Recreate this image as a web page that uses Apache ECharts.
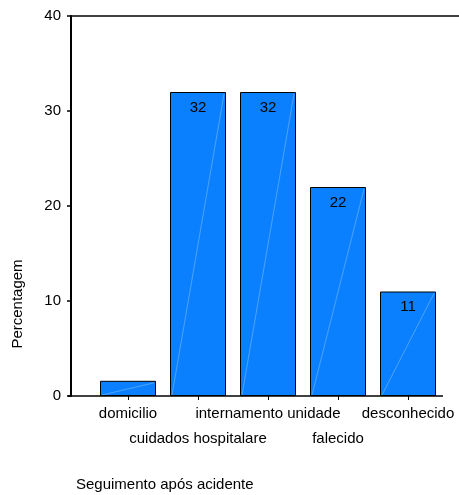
<!DOCTYPE html>
<html>
<head>
<meta charset="utf-8">
<script src="https://cdn.jsdelivr.net/npm/echarts@6/dist/echarts.min.js"></script>
<style>
  html, body { margin: 0; padding: 0; background: #fff; }
  #chart { width: 459px; height: 495px; }
</style>
</head>
<body>
<div id="chart"></div>
<script>
// Follow-up after the accident: percentage of cases per outcome
const categories = ['domicilio', 'cuidados hospitalare', 'internamento unidade', 'falecido', 'desconhecido'];
const percentages = [1.6, 32, 32, 22, 11];
const shownLabels = [null, 32, 32, 22, 11];
const yTicks = [0, 10, 20, 30, 40];

const FONT = '"Liberation Sans", Arial, sans-serif';
const BAR_BLUE = '#0a80ff';

const chart = echarts.init(document.getElementById('chart'), null, { renderer: 'canvas' });

const G_TOP = 16, G_BOTTOM = 99;

chart.setOption({
  animation: false,
  backgroundColor: '#ffffff',
  grid: [
    { left: 71, right: 16, top: G_TOP, bottom: G_BOTTOM },   // frame with value axis
    { left: 93, right: 16, top: G_TOP, bottom: G_BOTTOM }    // category band for bars
  ],
  xAxis: [
    {
      gridIndex: 0, type: 'value', min: 0, max: 1, show: false
    },
    {
      gridIndex: 1, type: 'category', data: categories,
      axisLine: { show: false },
      axisTick: { show: true, alignWithLabel: true, length: 4, lineStyle: { color: '#000', width: 1 } },
      axisLabel: {
        interval: 0, color: '#000', fontFamily: FONT, fontSize: 15,
        lineHeight: 25, margin: 5,
        formatter: (v, i) => (i % 2 ? '\n' + v : v)
      }
    }
  ],
  yAxis: [
    {
      gridIndex: 0, type: 'value', min: yTicks[0], max: yTicks[yTicks.length - 1], interval: 10,
      axisLine: { show: true, lineStyle: { color: '#000', width: 2 } },
      axisTick: { show: true, length: 4, lineStyle: { color: '#000', width: 1.5 } },
      axisLabel: {
        color: '#000', fontFamily: FONT, fontSize: 15, margin: 10,
        showMaxLabel: true, showMinLabel: true, hideOverlap: false
      },
      splitLine: { show: false }
    },
    {
      gridIndex: 1, type: 'value', min: yTicks[0], max: yTicks[yTicks.length - 1],
      show: false
    }
  ],
  series: [
    {
      type: 'bar',
      xAxisIndex: 1, yAxisIndex: 1,
      data: percentages,
      barCategoryGap: '20%',
      itemStyle: { color: BAR_BLUE, borderColor: '#000', borderWidth: 1 },
      label: {
        show: true, position: 'insideTop', distance: 8,
        color: '#000', fontFamily: FONT, fontSize: 15,
        formatter: p => (shownLabels[p.dataIndex] == null ? '' : String(shownLabels[p.dataIndex]))
      },
      z: 2
    },
    {
      // faint diagonal highlight inside each bar
      type: 'custom',
      xAxisIndex: 1, yAxisIndex: 1,
      data: percentages.map((v, i) => [i, v]),
      renderItem: (params, api) => {
        const i = api.value(0), v = api.value(1);
        const band = api.size([1, 0])[0];
        const half = band * 0.4;
        const base = api.coord([i, 0]);
        const top = api.coord([i, v]);
        return {
          type: 'line',
          shape: { x1: base[0] - half + 2, y1: base[1] - 1, x2: top[0] + half - 2, y2: top[1] + 2 },
          style: { stroke: 'rgba(150,200,255,0.8)', lineWidth: 0.6 },
          silent: true
        };
      },
      z: 3
    }
  ]
});

// Frame lines (top and bottom) and axis titles, placed from the value axis scale
const topLeft = chart.convertToPixel({ xAxisIndex: 0, yAxisIndex: 0 }, [0, yTicks[yTicks.length - 1]]);
const bottomLeft = chart.convertToPixel({ xAxisIndex: 0, yAxisIndex: 0 }, [0, yTicks[0]]);
const bottomRight = chart.convertToPixel({ xAxisIndex: 0, yAxisIndex: 0 }, [1, yTicks[0]]);
chart.setOption({
  graphic: [
    {
      type: 'line', silent: true, z: 10,
      shape: { x1: topLeft[0], y1: topLeft[1], x2: chart.getWidth(), y2: topLeft[1] },
      style: { stroke: '#000', lineWidth: 1.5 }
    },
    {
      type: 'line', silent: true, z: 10,
      shape: { x1: bottomLeft[0] - 3, y1: bottomLeft[1], x2: bottomRight[0], y2: bottomRight[1] },
      style: { stroke: '#000', lineWidth: 1.5 }
    },
    {
      type: 'text', x: 18, y: 304, rotation: Math.PI / 2,
      style: {
        text: 'Percentagem', fill: '#000', font: '15px ' + FONT,
        textAlign: 'center', textVerticalAlign: 'middle'
      }
    },
    {
      type: 'text', x: 76, y: 485,
      style: {
        text: 'Seguimento após acidente', fill: '#000', font: '15px ' + FONT,
        textAlign: 'left', textVerticalAlign: 'middle'
      }
    }
  ]
});
</script>
</body>
</html>
